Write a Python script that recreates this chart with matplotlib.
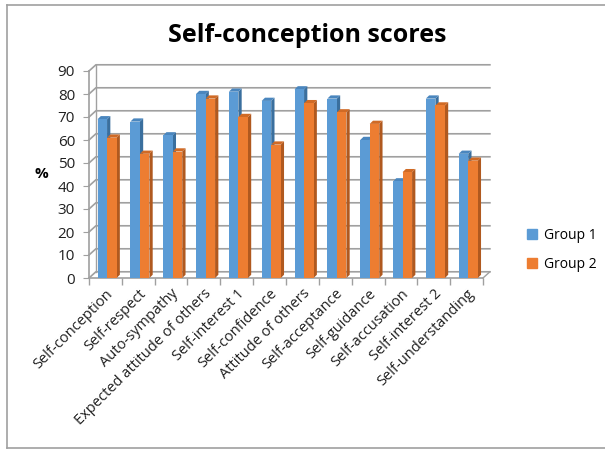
import matplotlib
matplotlib.use('Agg')
import matplotlib.pyplot as plt
from matplotlib.patches import Polygon
from matplotlib.lines import Line2D
import numpy as np

# ---------------------------------------------------------------------------
# Data
# ---------------------------------------------------------------------------
categories = ['Self-conception', 'Self-respect', 'Auto-sympathy',
              'Expected attitude of others', 'Self-interest 1', 'Self-confidence',
              'Attitude of others', 'Self-acceptance', 'Self-guidance',
              'Self-accusation', 'Self-interest 2', 'Self-understanding']
group1 = [69, 68, 62, 80, 81, 77, 82, 78, 60, 42, 78, 54]
group2 = [61, 54, 55, 78, 70, 58, 76, 72, 67, 46, 75, 51]
series_names = ['Group 1', 'Group 2']
yticks = list(range(0, 100, 10))

# Styling
FRONT = ['#5B9BD5', '#ED7D31']
SIDE = ['#3A6F9E', '#B0591F']
TOP = ['#4A86BE', '#D06A25']
GRID = '#A0A0A0'
BAR_W = 0.29
BAR_SHIFT = 0.05
BAR_DX, BAR_DY = 0.10, 1.4     # bar depth (category units, value units)
WALL_DX, WALL_DY = 0.21, 2.7   # back wall depth

plt.rcParams['font.family'] = ['Open Sans', 'DejaVu Sans']

fig = plt.figure(figsize=(6.05, 4.5), dpi=100)
ax = fig.add_axes([89 / 605, 1 - 278 / 450, 394 / 605, (278 - 71) / 450])

n = len(categories)
x = np.arange(n)
xmin, xmax = -0.5, n - 0.5

# back wall gridlines (with short diagonal on the left wall)
for yv in yticks:
    ax.plot([xmin, xmin + WALL_DX, xmax + WALL_DX],
            [yv, yv + WALL_DY, yv + WALL_DY],
            color=GRID, lw=1.2, clip_on=False, zorder=1)
# left wall back edge and floor right edge
ax.plot([xmin + WALL_DX, xmin + WALL_DX], [WALL_DY, 90 + WALL_DY],
        color=GRID, lw=1.0, clip_on=False, zorder=1)
ax.plot([xmax, xmax + WALL_DX], [0, WALL_DY], color=GRID, lw=1.0,
        clip_on=False, zorder=1)

# bars with pseudo-3D faces
for s, vals in enumerate([group1, group2]):
    for i, h in enumerate(vals):
        xl = x[i] - BAR_W + s * BAR_W + BAR_SHIFT
        xr = xl + BAR_W
        z = 3 + i * 2 + s
        side = Polygon([(xr, 0), (xr + BAR_DX, BAR_DY), (xr + BAR_DX, h + BAR_DY), (xr, h)],
                       closed=True, facecolor=SIDE[s], edgecolor='none', zorder=z, clip_on=False)
        top = Polygon([(xl, h), (xl + BAR_DX, h + BAR_DY), (xr + BAR_DX, h + BAR_DY), (xr, h)],
                      closed=True, facecolor=TOP[s], edgecolor='none', zorder=z, clip_on=False)
        ax.add_patch(side)
        ax.add_patch(top)
    ax.bar(x - BAR_W / 2 + s * BAR_W + BAR_SHIFT, vals, width=BAR_W, color=FRONT[s],
           label=series_names[s])

# front faces above their own side faces
for s, cont in enumerate(ax.containers):
    for i, rect in enumerate(cont):
        rect.set_zorder(3 + i * 2 + s + 0.5)

ax.set_xlim(xmin, xmax)
ax.set_ylim(0, 90)
ax.set_yticks(yticks)
ax.set_xticks(np.arange(n + 1) - 0.5, minor=True)
ax.set_xticks(x)
ax.set_xticklabels(categories, rotation=45, ha='right', rotation_mode='anchor',
                   fontsize=10.5, color='#202020')
ax.tick_params(axis='x', which='major', length=0, pad=6)
ax.tick_params(axis='x', which='minor', length=5, color=GRID, width=1.0)
ax.tick_params(axis='y', length=4, color=GRID, labelsize=11, labelcolor='#202020', pad=6)

for sp in ['top', 'right']:
    ax.spines[sp].set_visible(False)
ax.spines['left'].set_color(GRID)
ax.spines['bottom'].set_color(GRID)
ax.spines['left'].set_linewidth(1.2)
ax.spines['bottom'].set_linewidth(1.2)
ax.set_facecolor('none')

ax.set_ylabel('%', rotation=0, fontsize=11, fontweight='bold', labelpad=12, va='center')

fig.text(307 / 605, 1 - 35 / 450, 'Self-conception scores', ha='center', va='center',
         fontsize=18, fontweight='bold', color='black')

handles = [Line2D([], [], marker='s', ls='none', markersize=7,
                  markerfacecolor=FRONT[s], markeredgecolor=FRONT[s]) for s in range(2)]
fig.legend(handles, series_names, loc='center left', bbox_to_anchor=(513 / 605, 1 - 250 / 450),
           frameon=False, fontsize=10, handletextpad=0.3, labelspacing=1.0,
           handlelength=1.0)

# outer frame
frame_kw = dict(color='#A0A0A0', lw=1.2, transform=fig.transFigure)
fig.add_artist(Line2D([7 / 605, 1], [1 - 5 / 450, 1 - 5 / 450], **frame_kw))
fig.add_artist(Line2D([7 / 605, 7 / 605], [1 - 5 / 450, 1 - 448 / 450], **frame_kw))
fig.add_artist(Line2D([7 / 605, 1], [1 - 448 / 450, 1 - 448 / 450], **frame_kw))

fig.savefig('out.png', dpi=100)
